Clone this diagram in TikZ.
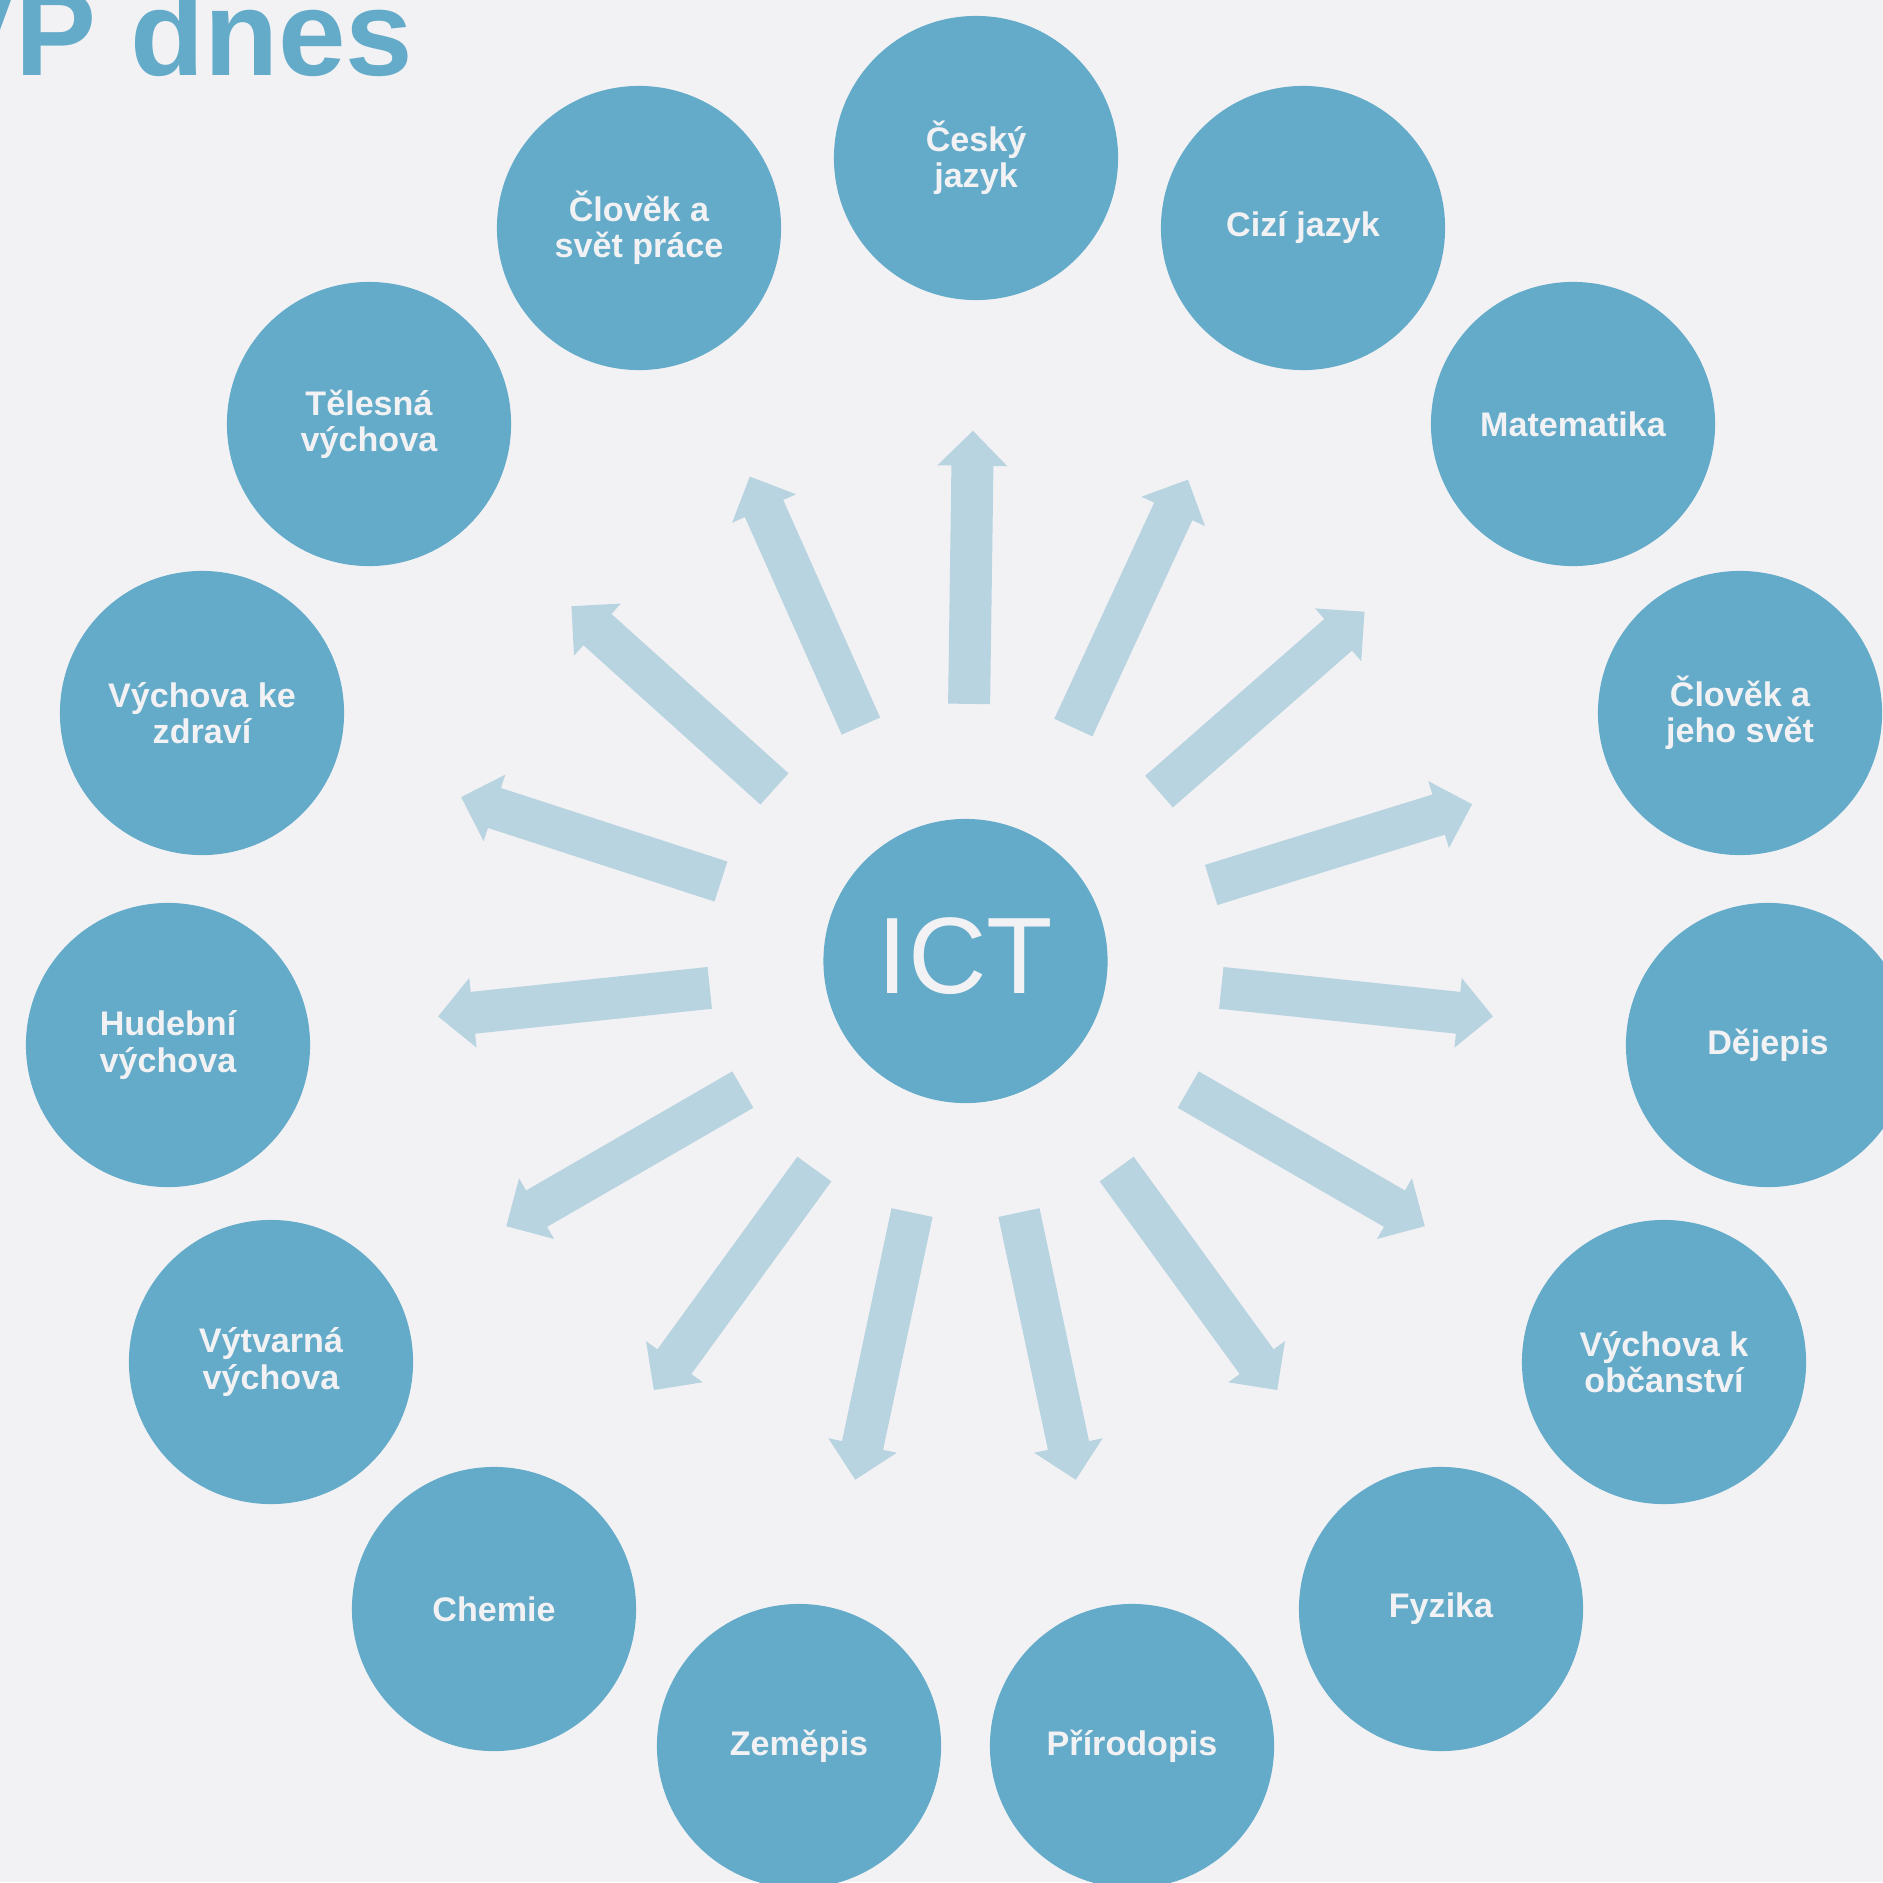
\documentclass[tikz,border=0pt]{standalone}
\usepackage{fontspec}
\setmainfont{Liberation Sans}
\usetikzlibrary{calc}
\definecolor{bgcol}{HTML}{F2F2F4}
\definecolor{circ}{HTML}{63ABC9}
\definecolor{arr}{HTML}{B8D4E1}
\definecolor{lbl}{HTML}{F2F2F4}

\begin{document}
\begin{tikzpicture}[x=0.01cm, y=-0.01cm,
	subj/.style={circle, fill=circ, text=lbl, minimum size=2.84cm, inner sep=0pt, align=center,
		font=\fontsize{9.7}{10.3}\selectfont\bfseries},
	spoke/.style={fill=arr}]
	\fill[bgcol] (0,0) rectangle (1883,1882);
	\useasboundingbox (0,0) rectangle (1883,1882);
	\node[anchor=base east, inner sep=0pt, text=circ, font=\fontsize{34.5}{36}\selectfont\bfseries] (title) at (414,76) {VP dnes};
%
	\node[subj, font=\fontsize{30.9}{32}\selectfont, text depth=0.1cm] (ict) at (965.5,961) {ICT};
%
	\node[subj] (cj) at (976,158) {Český\\jazyk};
	\node[subj] (ciz) at (1303,228) {Cizí jazyk};
	\node[subj] (mat) at (1573,424) {Matematika};
	\node[subj] (cjs) at (1740,713) {Člověk a\\jeho svět};
	\node[subj] (dej) at (1768,1045) {Dějepis};
	\node[subj] (obc) at (1664,1362) {Výchova k\\občanství};
	\node[subj] (fyz) at (1441,1609) {Fyzika};
	\node[subj] (pri) at (1132,1746) {Přírodopis};
	\node[subj] (zem) at (799,1746) {Zeměpis};
	\node[subj] (che) at (494,1609) {Chemie};
	\node[subj] (vv) at (271,1362) {Výtvarná\\výchova};
	\node[subj] (hv) at (168,1045) {Hudební\\výchova};
	\node[subj] (vz) at (202,713) {Výchova ke\\zdraví};
	\node[subj] (tv) at (369,424) {Tělesná\\výchova};
	\node[subj] (csp) at (639,228) {Člověk a\\svět práce};
%
	\foreach \a [count=\k] in {89.2,65.2,41.2,17.2,-6,-30,-54,-78,-102,-126,-150,-174,162,138,114} {
		\coordinate (tail\k) at ($(ict.center)+(\a:2.57cm)$);
		\coordinate (tip\k) at ($(ict.center)+(\a:5.30cm)$);
		\coordinate (neck\k) at ($(tip\k)!0.35cm!(tail\k)$);
		\fill[spoke] ($(tail\k)!0.21cm!90:(tip\k)$) -- ($(neck\k)!0.21cm!90:(tip\k)$)
			-- ($(neck\k)!0.35cm!90:(tip\k)$) -- (tip\k) -- ($(neck\k)!0.35cm!-90:(tip\k)$)
			-- ($(neck\k)!0.21cm!-90:(tip\k)$) -- ($(tail\k)!0.21cm!-90:(tip\k)$) -- cycle;
	}
\end{tikzpicture}
\end{document}
